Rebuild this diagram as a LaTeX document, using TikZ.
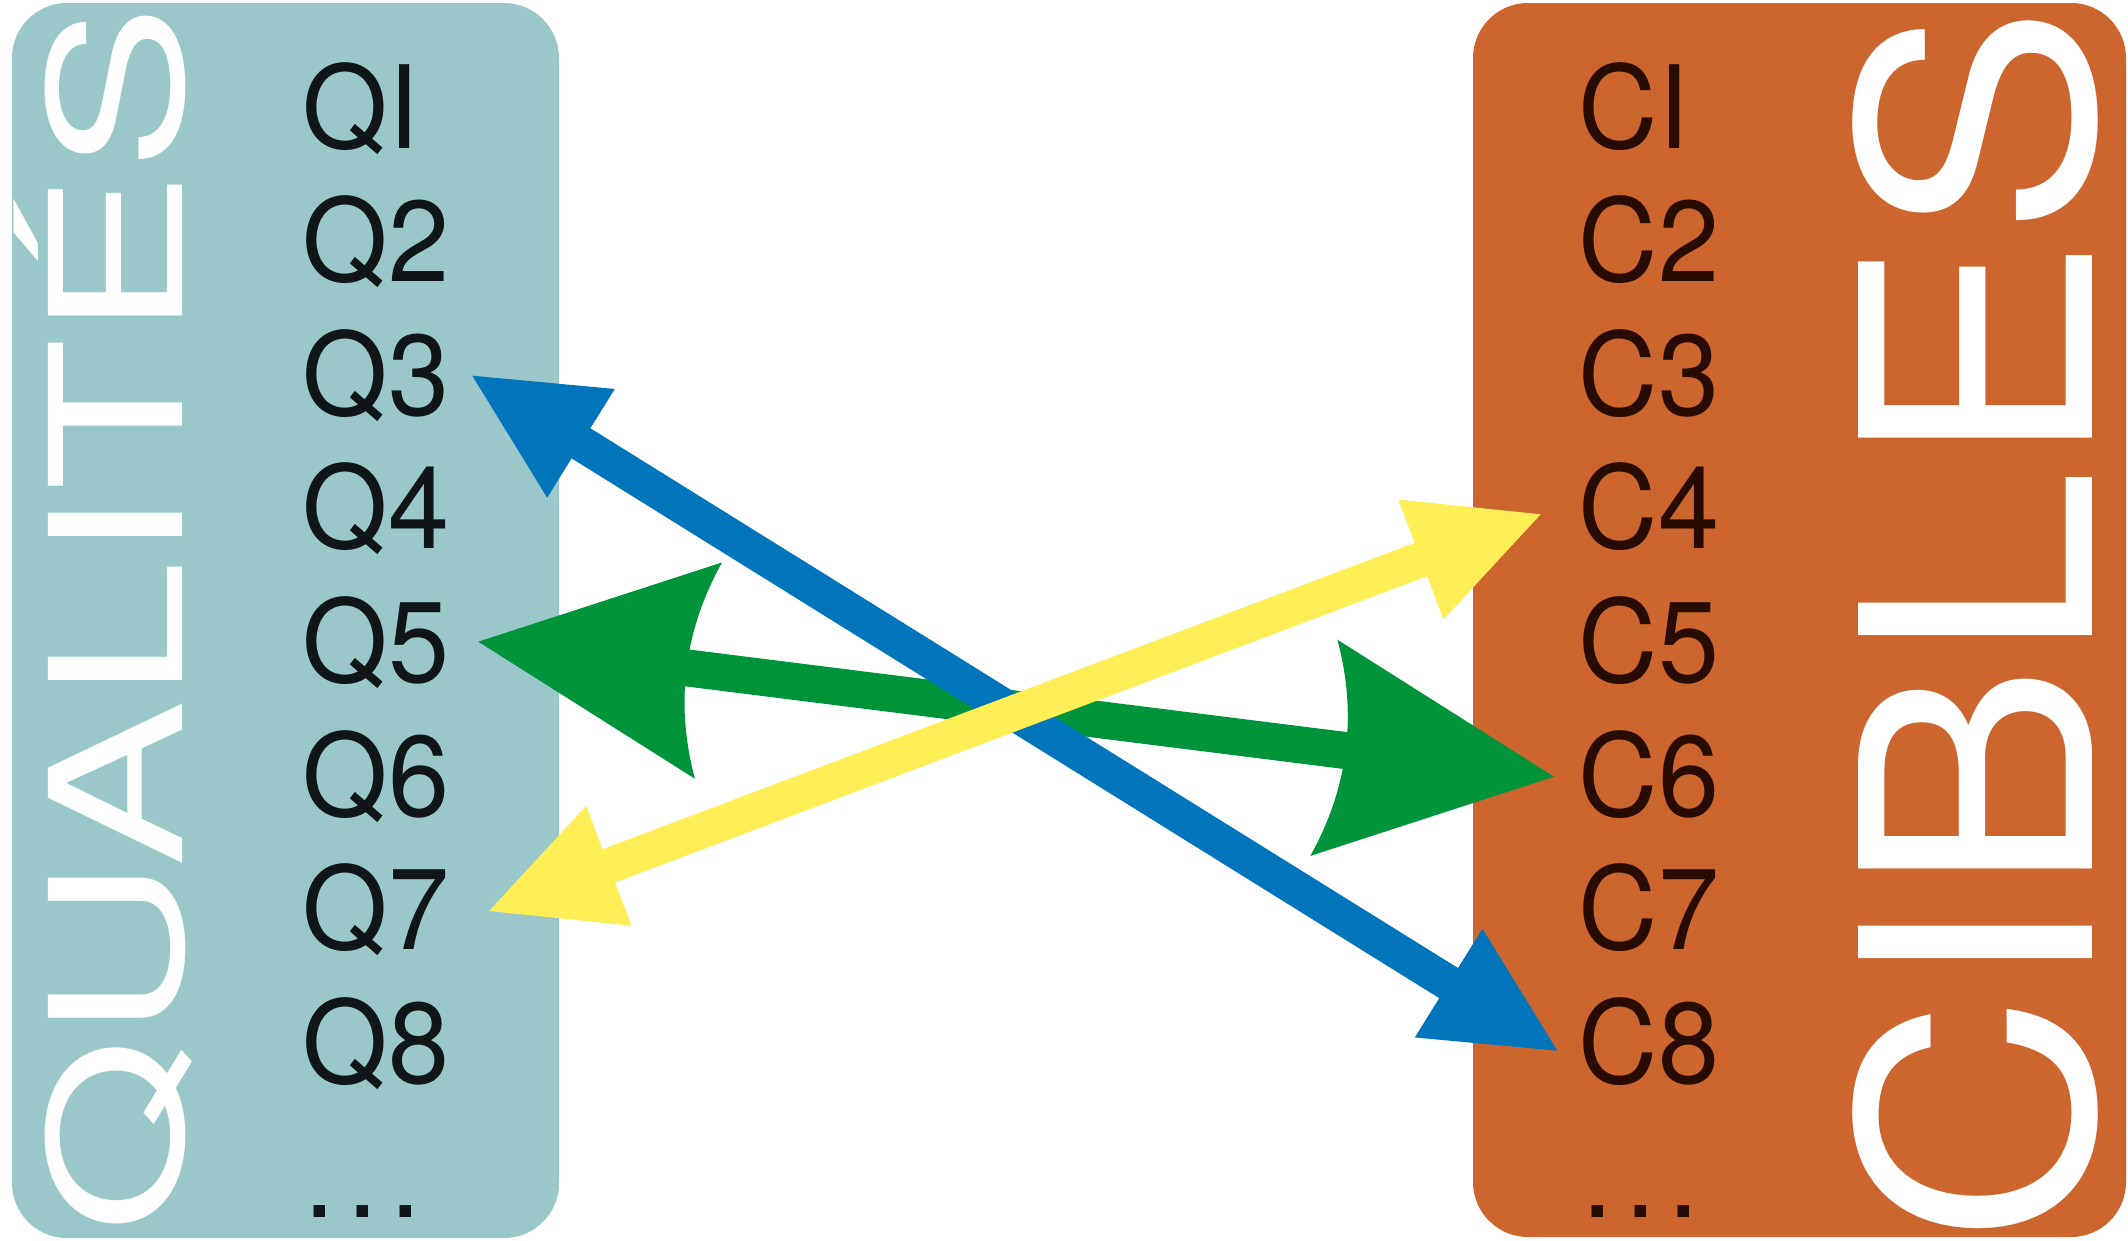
\documentclass[tikz,border=0pt]{standalone}
\usepackage{fontspec}
\setmainfont{TeX Gyre Heros}
\usetikzlibrary{arrows.meta}

\definecolor{tealc}{RGB}{153,199,202}
\definecolor{orangec}{RGB}{204,101,46}
\definecolor{bluec}{RGB}{0,117,188}
\definecolor{greenc}{RGB}{0,148,58}
\definecolor{yellowc}{RGB}{255,238,85}
\definecolor{qtext}{RGB}{16,22,24}
\definecolor{ctext}{RGB}{40,12,4}

\pgfdeclarearrow{
  name = TriHead,
  setup code = {
    \pgfarrowssettipend{0pt}
    \pgfarrowssetbackend{-128pt}
    \pgfarrowssetvisualbackend{-128pt}
    \pgfarrowssetlineend{-100pt}
    \pgfarrowshullpoint{0pt}{0pt}
    \pgfarrowsupperhullpoint{-128pt}{64pt}
  },
  drawing code = {
    \pgfpathmoveto{\pgfqpoint{0pt}{0pt}}
    \pgfpathlineto{\pgfqpoint{-128pt}{64pt}}
    \pgfpathlineto{\pgfqpoint{-128pt}{-64pt}}
    \pgfpathclose
    \pgfusepathqfill
  }
}

\pgfdeclarearrow{
  name = GreenHead,
  setup code = {
    \pgfarrowssettipend{0pt}
    \pgfarrowssetbackend{-232pt}
    \pgfarrowssetvisualbackend{-210pt}
    \pgfarrowssetlineend{-200pt}
    \pgfarrowshullpoint{0pt}{0pt}
    \pgfarrowsupperhullpoint{-232pt}{109pt}
  },
  drawing code = {
    \pgfpathmoveto{\pgfqpoint{0pt}{0pt}}
    \pgfpathlineto{\pgfqpoint{-232pt}{109pt}}
    \pgfpathcurveto{\pgfqpoint{-217pt}{72pt}}{\pgfqpoint{-210pt}{36pt}}{\pgfqpoint{-210pt}{0pt}}
    \pgfpathcurveto{\pgfqpoint{-210pt}{-36pt}}{\pgfqpoint{-217pt}{-72pt}}{\pgfqpoint{-232pt}{-109pt}}
    \pgfpathclose
    \pgfusepathqfill
  }
}

\tikzset{
  colbox/.style={inner sep=0pt, outer sep=0pt, rounded corners=55pt, anchor=north west},
  lbl/.style={font=\fontsize{115}{115}\selectfont, inner sep=0pt, anchor=base west, xscale=0.955},
  qlbl/.style={lbl, text=qtext},
  clbl/.style={lbl, text=ctext},
  title/.style={text=white, inner sep=0pt, anchor=base, rotate=90},
  thinarrow/.style={line width=35.5pt, {TriHead}-{TriHead}},
  greenarrow/.style={color=greenc, line width=37pt, {GreenHead}-{GreenHead}},
}

\begin{document}
\begin{tikzpicture}[x=1pt, y=-1pt]
\useasboundingbox (0,0) rectangle (2128,1240);

% boxes
\node[colbox, fill=tealc, minimum width=547pt, minimum height=1235pt] (qbox) at (12,3) {};
\node[colbox, fill=orangec, minimum width=653pt, minimum height=1234pt] (cbox) at (1473,3) {};

% vertical titles
\node[title, font=\fontsize{184}{184}\selectfont, xscale=1.36] (qtitle) at (182,619.5) {QUALITÉS};
\node[title, font=\fontsize{321}{321}\selectfont, xscale=1.087] (ctitle) at (2092,625) {CIBLES};

% left labels
\node[qlbl] (q1) at (302.7,148) {QI};
\node[qlbl] (q2) at (302.7,281.6) {Q2};
\node[qlbl] (q3) at (302.7,415.2) {Q3};
\node[qlbl] (q4) at (302.7,548.8) {Q4};
\node[qlbl] (q5) at (302.7,682.4) {Q5};
\node[qlbl] (q6) at (302.7,816) {Q6};
\node[qlbl] (q7) at (302.7,949.6) {Q7};
\node[qlbl] (q8) at (302.7,1083.2) {Q8};
\node[qlbl] (q9) at (304,1217) {.\kern13pt.\kern13pt.};

% right labels
\node[clbl] (c1) at (1578.6,148) {CI};
\node[clbl] (c2) at (1578.6,281.6) {C2};
\node[clbl] (c3) at (1578.6,415.2) {C3};
\node[clbl] (c4) at (1578.6,548.8) {C4};
\node[clbl] (c5) at (1578.6,682.4) {C5};
\node[clbl] (c6) at (1578.6,816) {C6};
\node[clbl] (c7) at (1578.6,949.6) {C7};
\node[clbl] (c8) at (1578.6,1083.2) {C8};
\node[clbl] (c9) at (1582,1217) {.\kern13pt.\kern13pt.};

% arrow ends
\coordinate (bq3) at (472.3,375.7);
\coordinate (bc8) at (1557.3,1050.7);
\coordinate (gq5) at (478.3,641.7);
\coordinate (gc6) at (1554,776.7);
\coordinate (yq7) at (489,911);
\coordinate (yc4) at (1540.7,514.3);

% arrows
\draw[greenarrow] (gq5) -- (gc6);
\draw[thinarrow, color=bluec] (bq3) -- (bc8);
\draw[thinarrow, color=yellowc] (yq7) -- (yc4);
\end{tikzpicture}
\end{document}
